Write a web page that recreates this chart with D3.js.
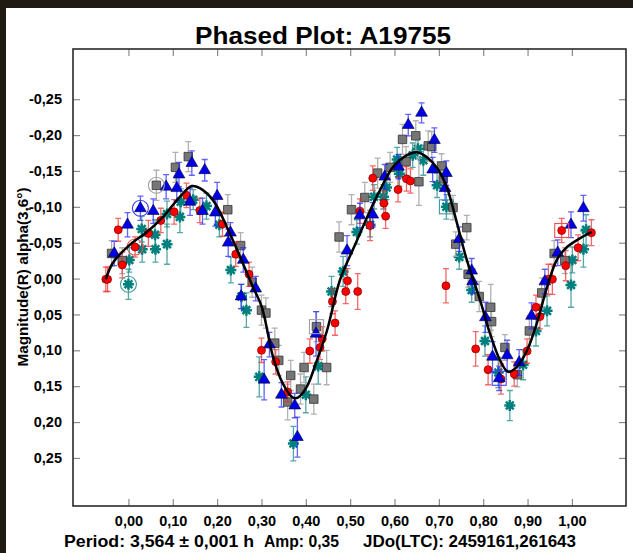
<!DOCTYPE html>
<html>
<head>
<meta charset="utf-8">
<script src="https://cdn.jsdelivr.net/npm/d3@7"></script>
<style>
  html, body { margin: 0; padding: 0; background: #fff; }
  svg text { font-family: "Liberation Sans", Arial, sans-serif; font-weight: bold; fill: #000; }
</style>
</head>
<body>
<div id="vis"></div>
<script>
const FRAME_WIDTH = 633;
const FRAME_HEIGHT = 553;
const PLOT = {left: 73, right: 626, top: 49, bottom: 506};

// x ticks (phase) and y ticks (magnitude)
const phaseTicks = [0, 0.1, 0.2, 0.3, 0.4, 0.5, 0.6, 0.7, 0.8, 0.9, 1.0];
const magTicks = [-0.25, -0.2, -0.15, -0.1, -0.05, 0, 0.05, 0.1, 0.15, 0.2, 0.25];

// [phase, magnitude, error]
const redPoints = [
  [-0.051, 0.001, 0.017], [-0.047, 0.001, 0.017], [-0.023, -0.068, 0.016], [-0.014, -0.019, 0.018],
  [0.015, -0.044, 0.014], [0.045, -0.063, 0.018], [0.073, -0.081, 0.017], [0.103, -0.093, 0.017],
  [0.131, -0.116, 0.017], [0.161, -0.095, 0.017], [0.212, -0.076, 0.017], [0.242, -0.034, 0.017],
  [0.272, -0.006, 0.017], [0.300, 0.100, 0.017], [0.332, 0.116, 0.017], [0.359, 0.158, 0.014],
  [0.409, 0.101, 0.017], [0.432, 0.096, 0.017], [0.437, 0.084, 0.017], [0.460, 0.032, 0.017],
  [0.466, 0.062, 0.017], [0.490, 0.018, 0.017], [0.494, 0.003, 0.017], [0.517, 0.018, 0.025],
  [0.522, -0.094, 0.017], [0.545, -0.074, 0.021], [0.551, -0.140, 0.017], [0.576, -0.105, 0.017],
  [0.580, -0.087, 0.017], [0.608, -0.124, 0.017], [0.627, -0.139, 0.017], [0.636, -0.136, 0.017],
  [0.716, 0.010, 0.024], [0.783, 0.098, 0.024], [0.811, 0.127, 0.021], [0.840, 0.140, 0.021],
  [0.870, 0.133, 0.017], [0.899, 0.101, 0.017], [0.919, 0.040, 0.017], [0.928, 0.053, 0.017],
  [0.947, 0.001, 0.021], [0.956, 0.001, 0.021], [0.977, -0.067, 0.017], [0.986, -0.018, 0.021],
  [1.014, -0.043, 0.018], [1.044, -0.064, 0.018]
];

const bluePoints = [
  [-0.032, -0.035, 0.017], [-0.002, -0.075, 0.017], [0.027, -0.098, 0.017], [0.056, -0.094, 0.017],
  [0.085, -0.128, 0.017], [0.109, -0.126, 0.017], [0.114, -0.145, 0.017], [0.139, -0.107, 0.019],
  [0.143, -0.161, 0.017], [0.167, -0.094, 0.018], [0.172, -0.151, 0.015], [0.196, -0.092, 0.019],
  [0.200, -0.115, 0.019], [0.225, -0.050, 0.019], [0.230, -0.064, 0.014], [0.254, 0.025, 0.017],
  [0.259, -0.026, 0.017], [0.287, 0.014, 0.017], [0.306, 0.141, 0.028], [0.318, 0.092, 0.017],
  [0.345, 0.162, 0.017], [0.375, 0.177, 0.017], [0.381, 0.221, 0.028], [0.423, 0.077, 0.031],
  [0.493, -0.039, 0.021], [0.522, -0.088, 0.017], [0.551, -0.089, 0.017], [0.578, -0.142, 0.017],
  [0.609, -0.156, 0.017], [0.631, -0.214, 0.015], [0.661, -0.231, 0.014], [0.686, -0.152, 0.017],
  [0.690, -0.193, 0.017], [0.717, -0.147, 0.017], [0.714, -0.126, 0.017], [0.746, -0.055, 0.017],
  [0.774, -0.011, 0.017], [0.776, 0.004, 0.017], [0.805, 0.054, 0.021], [0.821, 0.109, 0.021],
  [0.836, 0.139, 0.017], [0.854, 0.107, 0.021], [0.881, 0.117, 0.018], [0.909, 0.052, 0.018],
  [0.939, 0.004, 0.017], [0.968, -0.036, 0.018], [0.998, -0.075, 0.018], [1.026, -0.098, 0.018]
];

const grayPoints = [
  [-0.038, -0.035, 0.018], [-0.014, -0.025, 0.018], [0.063, -0.130, 0.021], [0.106, -0.155, 0.021],
  [0.135, -0.170, 0.021], [0.224, -0.096, 0.021], [0.253, -0.046, 0.018], [0.279, 0.005, 0.021],
  [0.300, 0.044, 0.021], [0.310, 0.048, 0.021], [0.330, 0.090, 0.021], [0.339, 0.114, 0.021],
  [0.359, 0.172, 0.025], [0.366, 0.135, 0.021], [0.388, 0.154, 0.021], [0.396, 0.124, 0.021],
  [0.418, 0.168, 0.021], [0.424, 0.067, 0.021], [0.447, 0.124, 0.024], [0.475, -0.058, 0.021],
  [0.503, -0.096, 0.021], [0.533, -0.113, 0.021], [0.562, -0.147, 0.021], [0.590, -0.155, 0.021],
  [0.618, -0.194, 0.021], [0.626, -0.163, 0.021], [0.648, -0.199, 0.021], [0.655, -0.135, 0.033],
  [0.676, -0.185, 0.021], [0.684, -0.184, 0.021], [0.706, -0.157, 0.017], [0.710, -0.139, 0.017],
  [0.732, -0.099, 0.017], [0.738, -0.048, 0.017], [0.763, -0.071, 0.017], [0.766, -0.006, 0.018],
  [0.791, 0.025, 0.021], [0.817, 0.040, 0.032], [0.819, 0.060, 0.021], [0.849, 0.096, 0.018],
  [0.877, 0.134, 0.017], [0.904, 0.073, 0.021], [0.932, 0.020, 0.021], [0.960, -0.035, 0.018],
  [0.984, -0.025, 0.018]
];

const tealPoints = [
  [0.000, 0.008, 0.021], [0.002, -0.026, 0.017], [0.030, -0.069, 0.018], [0.031, -0.041, 0.018],
  [0.060, -0.061, 0.021], [0.061, -0.041, 0.018], [0.087, -0.048, 0.028], [0.087, -0.090, 0.018],
  [0.116, -0.086, 0.022], [0.118, -0.107, 0.018], [0.146, -0.110, 0.014], [0.176, -0.101, 0.018],
  [0.205, -0.075, 0.017], [0.231, -0.012, 0.018], [0.255, 0.025, 0.017], [0.266, 0.044, 0.024],
  [0.295, 0.137, 0.028], [0.372, 0.230, 0.024], [0.400, 0.162, 0.025], [0.428, 0.122, 0.025],
  [0.458, 0.018, 0.021], [0.484, -0.010, 0.021], [0.515, -0.065, 0.017], [0.545, -0.075, 0.017],
  [0.554, -0.114, 0.017], [0.575, -0.114, 0.017], [0.582, -0.127, 0.017], [0.606, -0.166, 0.017],
  [0.611, -0.146, 0.017], [0.641, -0.172, 0.017], [0.653, -0.181, 0.014], [0.665, -0.165, 0.021],
  [0.696, -0.130, 0.017], [0.717, -0.100, 0.017], [0.746, -0.030, 0.017], [0.774, 0.016, 0.017],
  [0.804, 0.087, 0.021], [0.834, 0.131, 0.021], [0.860, 0.177, 0.021], [0.890, 0.120, 0.021],
  [0.919, 0.073, 0.021], [0.944, 0.045, 0.021], [0.998, 0.009, 0.031], [1.001, -0.026, 0.018],
  [1.026, -0.041, 0.025], [1.032, -0.068, 0.021]
];

// fitted curve: [phase, magnitude]
const fitCurve = [
  [-0.051, 0.001], [-0.035, -0.022], [0.003, -0.047], [0.042, -0.065], [0.078, -0.086],
  [0.116, -0.114], [0.143, -0.129], [0.161, -0.126], [0.191, -0.109], [0.222, -0.072],
  [0.252, -0.030], [0.281, 0.012], [0.301, 0.040], [0.326, 0.109], [0.348, 0.146],
  [0.371, 0.166], [0.382, 0.166], [0.402, 0.151], [0.425, 0.114], [0.448, 0.072],
  [0.477, 0.002], [0.511, -0.047], [0.545, -0.095], [0.567, -0.123], [0.596, -0.155],
  [0.628, -0.172], [0.650, -0.176], [0.673, -0.169], [0.696, -0.154], [0.718, -0.127],
  [0.741, -0.077], [0.763, -0.026], [0.793, 0.030], [0.815, 0.076], [0.838, 0.114],
  [0.856, 0.130], [0.876, 0.123], [0.899, 0.100], [0.921, 0.062], [0.944, 0.012],
  [0.966, -0.026], [0.989, -0.044], [1.018, -0.056], [1.045, -0.065]
];

// first point of a session gets a ring, last a box: [series, index]
const ringed = [["red", 4], ["blue", 2], ["gray", 2], ["teal", 0]];
const boxed = [["red", 42], ["blue", 40], ["gray", 17], ["teal", 33]];

const SERIES = {
  teal: {data: tealPoints, bar: "#1f8a8a", barOpacity: 0.75, mark: "#007f7f"},
  gray: {data: grayPoints, bar: "#a8a8a8", barOpacity: 0.9, mark: "#767676"},
  red: {data: redPoints, bar: "#f02828", barOpacity: 0.7, mark: "#ff0000"},
  blue: {data: bluePoints, bar: "#2020ff", barOpacity: 0.7, mark: "#0000e6"}
};

const svg = d3.select("#vis")
  .append("svg")
    .attr("width", FRAME_WIDTH)
    .attr("height", FRAME_HEIGHT);

// dark window edges
svg.append("rect").attr("x", 0).attr("y", 0).attr("width", FRAME_WIDTH).attr("height", 8).attr("fill", "#1f1b13");
svg.append("rect").attr("x", 0).attr("y", 0).attr("width", 6).attr("height", FRAME_HEIGHT).attr("fill", "#1f1b13");

const xScale = d3.scaleLinear().domain([-0.125, 1.122]).range([PLOT.left, PLOT.right]);
const yScale = d3.scaleLinear().domain([-0.32, 0.317]).range([PLOT.top, PLOT.bottom]);

const fmt = d3.formatLocale({decimal: ",", thousands: ".", grouping: [3], currency: ["", ""], minus: "-"}).format(".2f");

// title
svg.append("text")
  .attr("x", 323).attr("y", 44)
  .attr("text-anchor", "middle")
  .attr("font-size", "23px")
  .attr("textLength", 256)
  .attr("lengthAdjust", "spacingAndGlyphs")
  .text("Phased Plot: A19755");

// axes with inward ticks
const tickLen = 7;
svg.append("g").attr("transform", `translate(0,${PLOT.bottom})`)
  .call(d3.axisBottom(xScale).tickValues(phaseTicks).tickSize(-tickLen).tickPadding(10).tickFormat(fmt));
svg.append("g").attr("transform", `translate(0,${PLOT.top})`)
  .call(d3.axisTop(xScale).tickValues(phaseTicks).tickSize(-tickLen).tickFormat(""));
svg.append("g").attr("transform", `translate(${PLOT.left},0)`)
  .call(d3.axisLeft(yScale).tickValues(magTicks).tickSize(-tickLen).tickPadding(11).tickFormat(fmt));
svg.append("g").attr("transform", `translate(${PLOT.right},0)`)
  .call(d3.axisRight(yScale).tickValues(magTicks).tickSize(-tickLen).tickFormat(""));

svg.selectAll(".domain").remove();
svg.selectAll(".tick line").attr("stroke", "#8a8a8a").attr("stroke-width", 1.2);
svg.selectAll(".tick text")
  .attr("font-size", "14.5px")
  .attr("font-family", "Liberation Sans, Arial, sans-serif")
  .attr("font-weight", "bold")
  .attr("fill", "#000");

svg.append("rect")
  .attr("x", PLOT.left).attr("y", PLOT.top)
  .attr("width", PLOT.right - PLOT.left).attr("height", PLOT.bottom - PLOT.top)
  .attr("fill", "none").attr("stroke", "#2a2a2a").attr("stroke-width", 1.6);

// y label
svg.append("text")
  .attr("transform", "translate(28,277) rotate(-90)")
  .attr("text-anchor", "middle")
  .attr("font-size", "14px")
  .attr("textLength", 179)
  .attr("lengthAdjust", "spacingAndGlyphs")
  .text("Magnitude(R) alpha(3,6°)");

// footer
const footer = [["Period: 3,564 ± 0,001 h", 64, 190], ["Amp: 0,35", 264, 75], ["JDo(LTC): 2459161,261643", 363, 213]];
svg.selectAll(".footer").data(footer).enter()
  .append("text")
    .attr("class", "footer")
    .attr("x", d => d[1]).attr("y", 547)
    .attr("font-size", "16px")
    .attr("textLength", d => d[2])
    .attr("lengthAdjust", "spacingAndGlyphs")
    .text(d => d[0]);

const plot = svg.append("g");
const cap = 3;
const asterisk = "M-5.5,0L5.5,0M0,-5.5L0,5.5M-3.9,-3.9L3.9,3.9M-3.9,3.9L3.9,-3.9";

Object.entries(SERIES).forEach(([name, s]) => {
  const g = plot.append("g").attr("class", name);
  g.selectAll(".err").data(s.data).enter().append("path")
    .attr("class", "err")
    .attr("d", d => {
      const x = xScale(d[0]), y0 = yScale(d[1] - d[2]), y1 = yScale(d[1] + d[2]);
      return `M${x},${y0}L${x},${y1}M${x - cap},${y0}L${x + cap},${y0}M${x - cap},${y1}L${x + cap},${y1}`;
    })
    .attr("stroke", s.bar)
    .attr("stroke-opacity", s.barOpacity)
    .attr("stroke-width", 1.3)
    .attr("fill", "none");

  const marks = g.selectAll(".mark").data(s.data).enter();
  if (name === "red") {
    marks.append("circle")
      .attr("cx", d => xScale(d[0])).attr("cy", d => yScale(d[1]))
      .attr("r", 4)
      .attr("fill", s.mark).attr("stroke", "#7a0000").attr("stroke-width", 0.7);
  } else if (name === "blue") {
    marks.append("path")
      .attr("transform", d => `translate(${xScale(d[0])},${yScale(d[1])})`)
      .attr("d", d3.symbol().type(d3.symbolTriangle).size(60))
      .attr("fill", s.mark).attr("stroke", "#000030").attr("stroke-width", 0.6);
  } else if (name === "gray") {
    marks.append("path")
      .attr("transform", d => `translate(${xScale(d[0])},${yScale(d[1])})`)
      .attr("d", d3.symbol().type(d3.symbolSquare).size(72))
      .attr("fill", s.mark).attr("stroke", "#333").attr("stroke-width", 0.8);
  } else {
    marks.append("path")
      .attr("transform", d => `translate(${xScale(d[0])},${yScale(d[1])})`)
      .attr("d", asterisk)
      .attr("fill", "none").attr("stroke", s.mark).attr("stroke-width", 2.5);
  }
});

const ringColor = {red: "#f05050", blue: "#4040ff", gray: "#a0a0a0", teal: "#3a9a9a"};
plot.selectAll(".ring").data(ringed).enter().append("circle")
  .attr("class", "ring")
  .attr("cx", d => xScale(SERIES[d[0]].data[d[1]][0]))
  .attr("cy", d => yScale(SERIES[d[0]].data[d[1]][1]))
  .attr("r", 8)
  .attr("fill", "none").attr("stroke", d => ringColor[d[0]]).attr("stroke-width", 1.1);
plot.selectAll(".box").data(boxed).enter().append("rect")
  .attr("class", "box")
  .attr("x", d => xScale(SERIES[d[0]].data[d[1]][0]) - 7)
  .attr("y", d => yScale(SERIES[d[0]].data[d[1]][1]) - 7)
  .attr("width", 14).attr("height", 14)
  .attr("fill", "none").attr("stroke", d => ringColor[d[0]]).attr("stroke-width", 1.1);

// fitted curve
plot.append("path")
  .datum(fitCurve)
  .attr("d", d3.line().x(d => xScale(d[0])).y(d => yScale(d[1])).curve(d3.curveCatmullRom.alpha(0.5)))
  .attr("fill", "none")
  .attr("stroke", "#000")
  .attr("stroke-width", 2.5);
</script>
</body>
</html>
